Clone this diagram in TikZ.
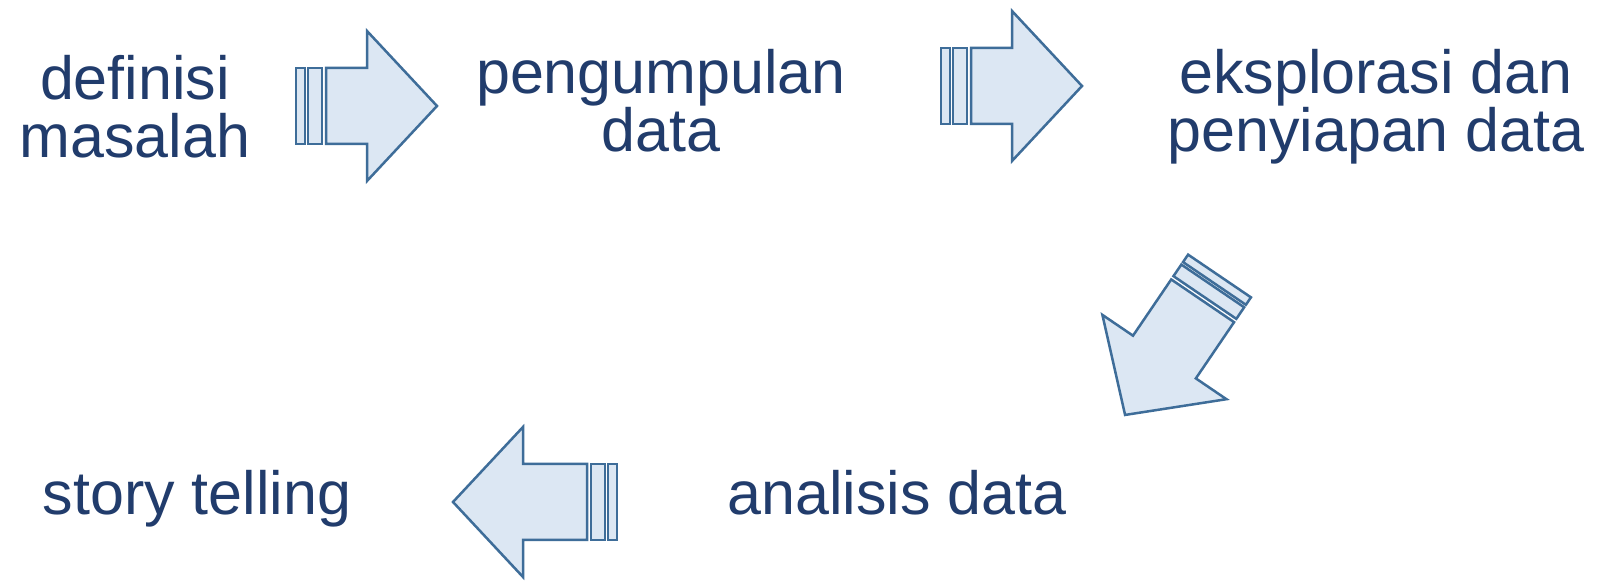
\documentclass[tikz,border=0pt]{standalone}
\usepackage{fontspec}
\setmainfont{Liberation Sans}
\definecolor{txtblue}{HTML}{213C6C}
\definecolor{arrowline}{HTML}{3E6D99}
\definecolor{arrowfill}{HTML}{DCE7F3}
\tikzset{
  lbl/.style={text=txtblue, font=\fontsize{30.5pt}{29pt}\selectfont,
    align=center, anchor=base, inner sep=0pt},
  arrowpart/.style={draw=arrowline, fill=arrowfill, line width=1.25pt, line join=miter},
  % striped block arrow pointing along +x, #1 = overall length
  pics/stripedarrow/.style={code={
    \draw[arrowpart] (30,-38) -- ({#1-70},-38) -- ({#1-70},-75) -- (#1,0)
      -- ({#1-70},75) -- ({#1-70},38) -- (30,38) -- cycle;
    \draw[arrowpart] (0,-38) rectangle (9,38);
    \draw[arrowpart] (12,-38) rectangle (26,38);
  }}
}
\begin{document}
\begin{tikzpicture}[x=0.5pt, y=-0.5pt]
  \fill[white] (0,0) rectangle (1600,581);
  \useasboundingbox (0,0) rectangle (1600,581);

  % process steps
  \node[lbl] (def)   at (135,158)  {definisi\\masalah};
  \node[lbl] (kump)  at (661,152)  {pengumpulan\\data};
  \node[lbl] (eks)   at (1376,152) {eksplorasi dan\\penyiapan data};
  \node[lbl] (anal)  at (897,515)  {analisis data};
  \node[lbl] (story) at (197,515)  {story telling};

  % arrows between the steps
  \pic (a1) at (296,106) {stripedarrow=141};
  \pic (a2) at (941,86) {stripedarrow=141};
  \pic[rotate=235.8] (a3) at (1219.5,276) {stripedarrow=168};
  \pic[rotate=180] (a4) at (617,502) {stripedarrow=164};
\end{tikzpicture}
\end{document}
